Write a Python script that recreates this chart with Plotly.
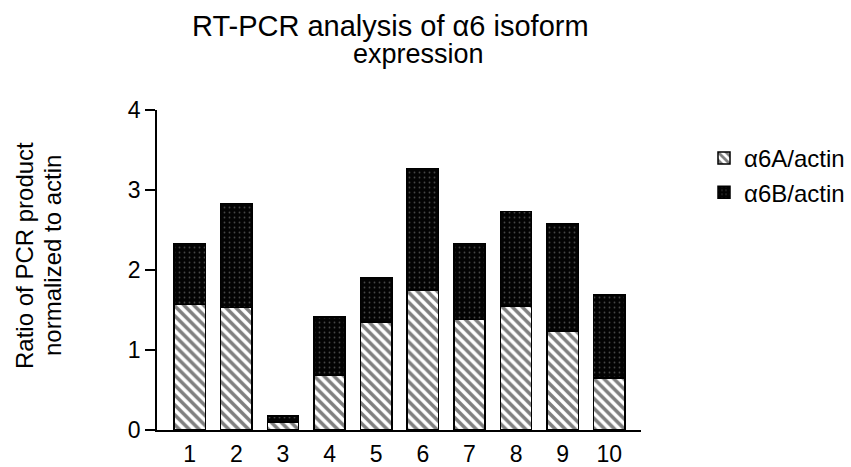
import plotly.graph_objects as go

categories = ["1", "2", "3", "4", "5", "6", "7", "8", "9", "10"]
alpha6A = [1.57, 1.53, 0.10, 0.68, 1.35, 1.75, 1.38, 1.55, 1.24, 0.65]
alpha6B = [0.76, 1.30, 0.075, 0.73, 0.55, 1.52, 0.95, 1.18, 1.335, 1.04]
y_ticks = [0, 1, 2, 3, 4]

xpos = list(range(1, len(categories) + 1))
FONT = "Liberation Sans, Arial, sans-serif"

# plot area in pixels
L, R, T, B = 157, 210, 110, 37
W, H = 851, 467
PW, PH = W - L - R, H - T - B


def px_x(px):
    return (px - L) / PW


def px_y(py):
    return (H - B - py) / PH


fig = go.Figure()
fig.add_trace(go.Bar(
    x=xpos, y=alpha6A, name="α6A/actin", width=0.67,
    marker=dict(color="white", line=dict(color="black", width=1.5),
                pattern=dict(shape="\\", fgcolor="black", bgcolor="white",
                             size=7, solidity=0.5, fillmode="overlay")),
))
fig.add_trace(go.Bar(
    x=xpos, y=alpha6B, name="α6B/actin", width=0.67,
    marker=dict(color="black", line=dict(color="black", width=1.5),
                pattern=dict(shape=".", fgcolor="#8a8a8a", bgcolor="#030303",
                             size=5, solidity=0.1, fillmode="overlay")),
))

annotations = [
    dict(text="RT-PCR analysis of α6 isoform", x=px_x(390), y=px_y(26),
         font=dict(size=29, family=FONT, color="black")),
    dict(text="expression", x=px_x(418), y=px_y(54),
         font=dict(size=27, family=FONT, color="black")),
    dict(text="Ratio of PCR product", x=px_x(24), y=px_y(256), textangle=-90,
         font=dict(size=24, family=FONT, color="black")),
    dict(text="normalized to actin", x=px_x(52), y=px_y(256), textangle=-90,
         font=dict(size=24, family=FONT, color="black")),
]
for a in annotations:
    a.update(xref="paper", yref="paper", xanchor="center", yanchor="middle",
             showarrow=False)

fig.update_layout(
    barmode="stack",
    width=W, height=H,
    paper_bgcolor="white", plot_bgcolor="white",
    margin=dict(l=L, r=R, t=T, b=B, autoexpand=False),
    font=dict(family=FONT, color="black"),
    annotations=annotations,
    legend=dict(x=px_x(704), y=px_y(136), xanchor="left", yanchor="top",
                font=dict(size=24, family=FONT, color="black"),
                bgcolor="rgba(0,0,0,0)", traceorder="normal",
                itemwidth=30),
    showlegend=True,
)
fig.update_xaxes(
    range=[0.3, 10.68], tickmode="array", tickvals=xpos, ticktext=categories,
    showline=True, linecolor="black", linewidth=1.5, ticks="",
    showgrid=False, zeroline=False, automargin=False,
    tickfont=dict(size=23, family=FONT, color="black"),
    ticklabelstandoff=3,
)
fig.update_yaxes(
    range=[0, 4], tickvals=y_ticks, showline=True, linecolor="black", linewidth=1.5,
    ticks="outside", ticklen=10, tickwidth=1.5, tickcolor="black",
    showgrid=False, zeroline=False, automargin=False,
    tickfont=dict(size=23, family=FONT, color="black"),
)

fig.write_html("out.html", config={"displayModeBar": False},
               post_script="document.body.style.margin='0';document.body.style.overflow='hidden';")
